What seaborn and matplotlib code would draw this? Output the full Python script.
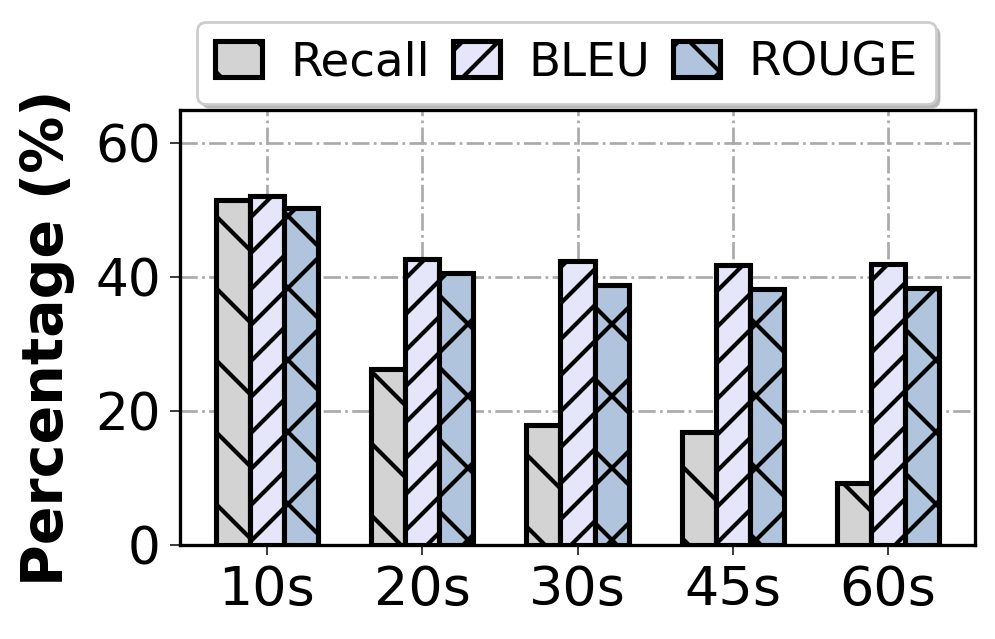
import pandas as pd
import seaborn as sns
from matplotlib import pyplot as plt
from matplotlib.patches import Shadow

# values
durations = ["10s", "20s", "30s", "45s", "60s"]
metrics = ["Recall", "BLEU", "ROUGE"]
recall = [51.5, 26.3, 18.0, 16.9, 9.3]
bleu = [52.2, 42.8, 42.5, 41.9, 42.0]
rouge = [50.3, 40.7, 38.9, 38.2, 38.4]

colors = ["lightgray", "lavender", "lightsteelblue"]
hatches = ["\\\\", "////", "xx"]

sns.set_style("white")
plt.rcParams["font.family"] = ["DejaVu Sans"]
plt.rcParams["hatch.linewidth"] = 0.7
plt.rcParams["text.color"] = "black"
plt.rcParams["xtick.color"] = "black"
plt.rcParams["ytick.color"] = "black"
plt.rcParams["axes.labelcolor"] = "black"

df = pd.DataFrame({
    "Duration": durations * 3,
    "Metric": [m for m in metrics for _ in durations],
    "Value": recall + bleu + rouge,
})

dpi = 432
fig = plt.figure(figsize=(996 / dpi, 639 / dpi), dpi=dpi)
ax = fig.add_axes([0.1807, 0.147, 0.7983, 0.681])

sns.barplot(data=df, x="Duration", y="Value", hue="Metric", order=durations,
            hue_order=metrics, palette=colors, width=0.66, saturation=1,
            edgecolor="black", linewidth=0.85, legend=False, ax=ax, zorder=3)

for cont, h in zip(ax.containers, hatches):
    for p in cont.patches:
        p.set_hatch(h)

ax.set_ylim(0, 65)
ax.set_xlim(-0.56, 4.56)
ax.set_yticks([0, 20, 40, 60])
ax.grid(True, linestyle="-.", color="#aaaaaa", linewidth=0.45, zorder=0)
ax.set_axisbelow(True)
for s in ax.spines.values():
    s.set_linewidth(0.55)
    s.set_color("black")
ax.tick_params(axis="x", labelsize=9.0, length=1.7, width=0.25, pad=1.5, bottom=True)
ax.tick_params(axis="y", labelsize=8.6, length=1.7, width=0.25, pad=1.5, left=True)
ax.set_xlabel("")
ax.set_ylabel("Percentage (%)", fontsize=9.5, fontweight="bold")
ax.yaxis.set_label_coords(-0.132, 0.476)

handles = [c.patches[0] for c in ax.containers]
leg = ax.legend(handles, metrics, loc="lower center", bbox_to_anchor=(0.486, 1.0),
                ncol=3, fontsize=7.8, frameon=True, fancybox=True, shadow=False,
                framealpha=1, handlelength=1.0, handleheight=0.8, handletextpad=0.6,
                columnspacing=0.5, borderpad=0.4, borderaxespad=0.12)
leg.get_frame().set_linewidth(0.45)
leg.get_frame().set_edgecolor("#cccccc")
leg.set_zorder(10)

# light, small-offset shadow behind the legend box
fig.canvas.draw()
sh = Shadow(leg.legendPatch, 0.7, -0.7, facecolor="#b0b0b0", edgecolor="none", alpha=0.9)
sh.set_zorder(9)
ax.add_artist(sh)
sh.set_clip_on(False)

plt.savefig("out.png", dpi=dpi)
